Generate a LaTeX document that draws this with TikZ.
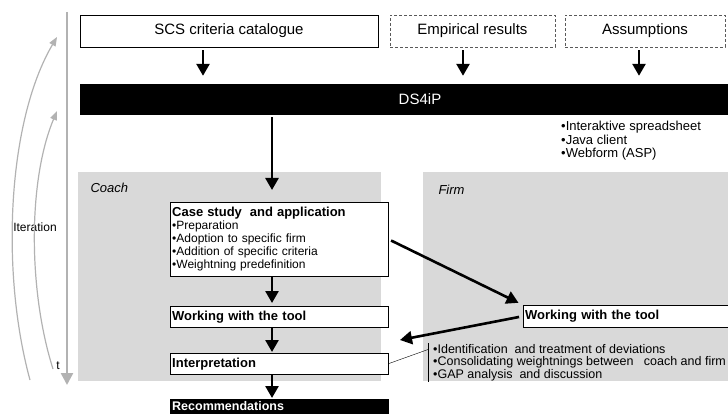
\documentclass[tikz,border=0pt]{standalone}
\usepackage{fontspec}
\setmainfont{Liberation Sans}
\usetikzlibrary{arrows.meta,positioning}

\begin{document}
\begin{tikzpicture}[
    x=1pt, y=-1pt,
    source/.style={draw, fill=white, minimum height=32pt, inner sep=0pt, font=\fontsize{15}{16}\selectfont},
    vague/.style={source, draw=black!65, dash pattern=on 3pt off 2pt},
    bar/.style={fill=black, text=white, inner sep=0pt},
    area/.style={fill=black!15, draw=none, anchor=north west, inner sep=0pt},
    stage/.style={draw, fill=white, anchor=north west, minimum width=218pt, text width=214pt, minimum height=21pt, inner sep=2pt, align=left, font=\fontsize{13}{14}\selectfont\bfseries},
    flow/.style={-{Triangle[width=13pt,length=12pt]}, line width=2.6pt},
    timeline/.style={-{Triangle[width=12pt,length=12pt]}, line width=2.5pt, draw=black!30},
    iterarrow/.style={-{Triangle[width=7pt,length=9pt]}, line width=1.2pt, draw=black!30},
    note/.style={anchor=north west, align=left, inner sep=1pt},
]
\useasboundingbox (0,0) rectangle (728,414);

% Background areas
\node[area, minimum width=303pt, minimum height=209pt] (coach) at (78,172) {};
\node[area, minimum width=320pt, minimum height=209pt] (firm) at (423,172) {};
\node[below right=16pt and 9pt of coach.north west, anchor=west, font=\fontsize{13}{14}\selectfont\itshape] (coachlabel) {Coach};
\node[below right=18pt and 12pt of firm.north west, anchor=west, font=\fontsize{13}{14}\selectfont\itshape] (firmlabel) {Firm};

% Inputs
\node[source, minimum width=298pt] (scs) at (229,31) {SCS criteria catalogue};
\node[vague, minimum width=165pt] (emp) at (472.5,31) {Empirical results};
\node[vague, minimum width=160pt] (assume) at (645,31) {Assumptions};

% Tool
\node[bar, minimum width=680pt, minimum height=31pt, font=\fontsize{15}{16}\selectfont] (ds) at (420,99.5) {DS4iP};
\node[note, font=\fontsize{13}{13.5}\selectfont] (variants) at (560,120) {•Interaktive spreadsheet\\•Java client\\•Webform (ASP)};

% Process steps
\node[stage, minimum height=74pt, font=\fontsize{12}{13}\selectfont] (case) at (170,202)
    {{\fontsize{13}{13}\selectfont\bfseries Case study~ and application}\\
     •Preparation\\•Adoption to specific firm\\•Addition of specific criteria\\•Weightning predefinition};
\node[stage] (work) at (170,306) {Working with the tool};
\node[stage] (interp) at (170,353) {Interpretation};
\node[stage, fill=black, text=white, minimum height=14pt, inner ysep=0.5pt, font=\fontsize{12.5}{13}\selectfont\bfseries] (rec) at (170,399) {Recommendations};
\node[stage, minimum width=240pt, text width=236pt, minimum height=22pt] (fwork) at (523,305) {Working with the tool};

\node[note, inner xsep=5pt, font=\fontsize{12.5}{12.5}\selectfont] (findings) at (428,343)
    {•Identification~ and treatment of deviations\\•Consolidating weightnings between~~ coach and firm\\•GAP analysis~ and discussion};

% Time axis and iterations
\coordinate (ttop) at (67,12);
\coordinate (tend) at (67,385);
\draw[timeline] (ttop) -- (tend);
\node[font=\fontsize{12}{12}\selectfont] (tlabel) at (58,366) {t};
\node[font=\fontsize{12}{12}\selectfont] (iterlabel) at (35,227) {Iteration};
\draw[iterarrow] (30,380) .. controls (0,270) and (8,120) .. (57,37);
\draw[iterarrow] (53,369) .. controls (28,290) and (28,180) .. (57,111);

% Arrows
\coordinate (col) at (272,0);
\coordinate (back) at (400,340);
\draw[flow, shorten <=3pt, shorten >=8pt] ([xshift=-26pt]scs.south) -- ([xshift=-26pt]scs.south |- ds.north);
\draw[flow, shorten <=3pt, shorten >=8pt] ([xshift=-9.5pt]emp.south) -- ([xshift=-9.5pt]emp.south |- ds.north);
\draw[flow, shorten <=3pt, shorten >=8pt] ([xshift=-6pt]assume.south) -- ([xshift=-6pt]assume.south |- ds.north);
\draw[flow, shorten <=2pt, shorten >=12pt] (ds.south -| col) -- (case.north -| col);
\draw[flow, shorten >=3pt] (case.south -| col) -- (work.north -| col);
\draw[flow, shorten >=1pt] (work.south -| col) -- (interp.north -| col);
\draw[flow, shorten >=1pt] (interp.south -| col) -- (rec.north -| col);
\draw[flow, shorten <=3pt, shorten >=5pt] (case.east) -- (fwork.north west);
\draw[flow, shorten <=4pt] (fwork.west) -- (back);

% Findings bracket
\draw (findings.north west) -- (findings.south west);
\draw (interp.east) -- ([yshift=13pt]findings.west);
\end{tikzpicture}
\end{document}
